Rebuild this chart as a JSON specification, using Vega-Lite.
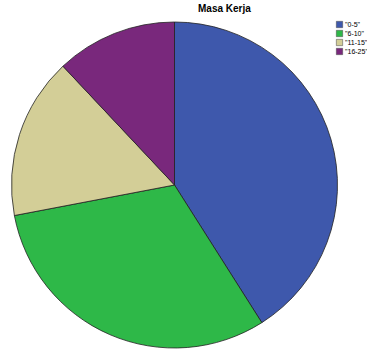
{
  "$schema": "https://vega.github.io/schema/vega-lite/v6.json",
  "width": 349,
  "height": 330,
  "autosize": "none",
  "padding": {"left": 0, "top": 20, "right": 18, "bottom": 1},
  "background": "white",
  "title": {"text": "Masa Kerja", "font": "Liberation Sans", "fontSize": 10, "fontWeight": "bold", "color": "#000000", "anchor": "start", "dx": 198, "offset": 6},
  "data": {"values": [
    {"masa": "\"0-5\"", "n": 41, "order": 1},
    {"masa": "\"6-10\"", "n": 31, "order": 2},
    {"masa": "\"11-15\"", "n": 16, "order": 3},
    {"masa": "\"16-25\"", "n": 12, "order": 4}
  ]},
  "mark": {"type": "arc", "outerRadius": 163, "stroke": "#222222", "strokeWidth": 0.8},
  "encoding": {
    "theta": {"field": "n", "type": "quantitative", "stack": true},
    "order": {"field": "order", "type": "quantitative"},
    "color": {
      "field": "masa", "type": "nominal",
      "sort": ["\"0-5\"", "\"6-10\"", "\"11-15\"", "\"16-25\""],
      "scale": {"domain": ["\"0-5\"", "\"6-10\"", "\"11-15\"", "\"16-25\""], "range": ["#3E58AC", "#2EB848", "#D3CE97", "#79287C"]},
      "legend": {
        "title": null, "orient": "none", "legendX": 336, "legendY": 1,
        "symbolType": "square", "symbolSize": 40, "symbolStrokeColor": "#444444", "symbolStrokeWidth": 0.5,
        "labelFont": "Liberation Sans", "labelFontSize": 7, "labelColor": "#000000",
        "rowPadding": 0, "labelOffset": 2, "padding": 0
      }
    }
  }
}
